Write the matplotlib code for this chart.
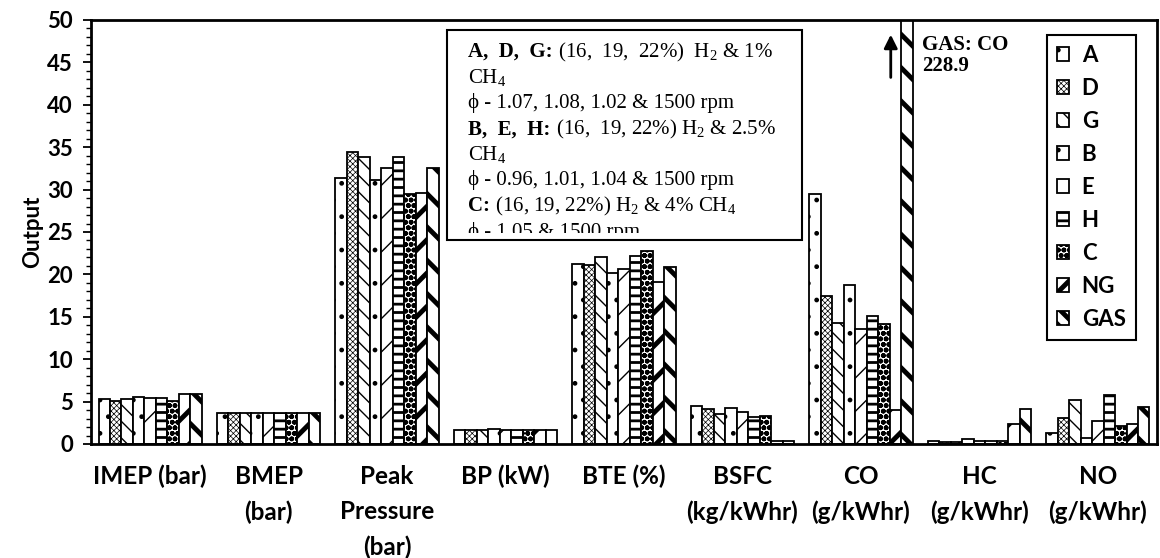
import numpy as np
import matplotlib
matplotlib.use("Agg")
import matplotlib.pyplot as plt
from matplotlib.patches import Rectangle
from matplotlib.ticker import MultipleLocator

plt.rcParams["font.family"] = ["Lato", "DejaVu Sans"]
plt.rcParams["mathtext.fontset"] = "custom"
plt.rcParams["mathtext.rm"] = "Liberation Serif"
plt.rcParams["mathtext.bf"] = "Liberation Serif:bold"
plt.rcParams["mathtext.it"] = "Liberation Serif:italic"

# Performance / emission parameters on the x axis
params = ["IMEP (bar)", "BMEP\n(bar)", "Peak\nPressure\n(bar)", "BP (kW)", "BTE (%)",
          "BSFC\n(kg/kWhr)", "CO\n(g/kWhr)", "HC\n(g/kWhr)", "NO\n(g/kWhr)"]
labels = ["A", "D", "G", "B", "E", "H", "C", "NG", "GAS"]

# values for each fuel case, same order as params
A = [5.3, 3.7, 31.4, 1.7, 21.2, 4.5, 29.5, 0.3, 1.3]
D = [5.1, 3.7, 34.4, 1.7, 21.1, 4.1, 17.4, 0.2, 3.1]
G = [5.3, 3.7, 33.9, 1.7, 22.0, 3.5, 14.3, 0.2, 5.2]
B = [5.5, 3.7, 31.1, 1.8, 20.2, 4.2, 18.8, 0.55, 0.75]
E = [5.4, 3.7, 32.5, 1.7, 20.6, 3.8, 13.6, 0.3, 2.75]
H = [5.4, 3.7, 33.8, 1.7, 22.2, 3.2, 15.1, 0.3, 5.8]
C = [5.1, 3.7, 29.5, 1.7, 22.8, 3.3, 14.2, 0.4, 2.1]
NG = [5.9, 3.7, 29.6, 1.7, 19.1, 0.4, 4.0, 2.3, 2.4]
GAS = [5.9, 3.7, 32.6, 1.7, 20.9, 0.4, 228.9, 4.1, 4.4]
series = [A, D, G, B, E, H, C, NG, GAS]

gas_co = GAS[params.index("CO\n(g/kWhr)")]

# fill pattern and its line width for each case
hatches = [".", "xxxxxx", "\\\\", ".", "/", "--", "ooo", "/", "\\"]
hatch_lw = [1.0, 0.5, 1.0, 1.0, 1.0, 2.0, 1.8, 3.5, 3.5]
# the thick stripes need to be denser to show in the small legend keys
legend_hatches = [".", "xxxxxx", "\\\\", ".", "/", "--", "ooo", "//", "\\\\"]

# (bold lead, rest of line) for the description box
note_lines = [
    ("A,  D,  G:", r" (16,  19,  22%)  H$_2$ & 1%"),
    ("", r"CH$_4$"),
    ("", "ϕ - 1.07, 1.08, 1.02 & 1500 rpm"),
    ("B,  E,  H:", r" (16,  19, 22%) H$_2$ & 2.5%"),
    ("", r"CH$_4$"),
    ("", "ϕ - 0.96, 1.01, 1.04 & 1500 rpm"),
    ("C:", r" (16, 19, 22%) H$_2$ & 4% CH$_4$"),
    ("", "ϕ - 1.05 & 1500 rpm"),
]
serif = ["Liberation Serif", "DejaVu Serif"]

fig = plt.figure(figsize=(11.6, 5.58), dpi=100)
ax = fig.add_axes([91 / 1160, 1 - 444 / 558, (1157 - 91) / 1160, (444 - 20) / 558])

x = np.arange(len(params))
w = 0.097
for i, (vals, lab) in enumerate(zip(series, labels)):
    plt.rcParams["hatch.linewidth"] = hatch_lw[i]
    bars = ax.bar(x + (i - 4) * w, vals, w, label=lab, color="white",
                  edgecolor="black", linewidth=1.3, hatch=hatches[i], zorder=2)
    for b in bars:
        if hasattr(b, "set_hatch_linewidth"):
            b.set_hatch_linewidth(hatch_lw[i])

ax.set_xlim(-0.5, len(params) - 0.5)
ax.set_ylim(0, 50)
ax.yaxis.set_major_locator(MultipleLocator(5))
ax.yaxis.set_minor_locator(MultipleLocator(1))
ax.set_xticks(x)
ax.set_xticklabels(params, fontsize=17.5, fontweight="bold", linespacing=1.63, va="top")
ax.tick_params(axis="x", length=0, pad=15)
ax.tick_params(axis="y", which="major", length=6, width=1.3, labelsize=16, pad=7)
ax.tick_params(axis="y", which="minor", length=3.5, width=1.0)
for t in ax.get_yticklabels():
    t.set_fontweight("bold")
ax.set_ylabel("Output", fontsize=16, fontweight="bold", labelpad=3)
for s in ax.spines.values():
    s.set_linewidth(2)

leg = ax.legend(loc="upper left", bbox_to_anchor=(0.897, 0.965),
                prop=dict(weight="bold", size=16), fancybox=False,
                edgecolor="black", framealpha=1, handlelength=0.55,
                handleheight=0.55, handletextpad=0.55, labelspacing=0.54,
                borderpad=0.45, borderaxespad=0)
leg.get_frame().set_linewidth(1.5)
for p, lw, h in zip(leg.get_patches(), hatch_lw, legend_hatches):
    p.set_hatch(h)
    if hasattr(p, "set_hatch_linewidth"):
        p.set_hatch_linewidth(lw)

# description box of the fuel cases, last line cut off by its lower margin
box = Rectangle((0.334, 0.481), 0.333, 0.495, transform=ax.transAxes,
                facecolor="white", edgecolor="black", lw=1.5, zorder=5)
ax.add_patch(box)
clip = Rectangle((0.334, 0.497), 0.333, 0.47, transform=ax.transAxes,
                 fill=False, visible=False)
ax.add_patch(clip)

renderer = fig.canvas.get_renderer()
for k, (lead, rest) in enumerate(note_lines):
    y = 0.9127 - k * 0.0606
    x0 = 0.354
    if lead:
        t = ax.text(x0, y, lead, transform=ax.transAxes, fontsize=15,
                    fontweight="bold", family=serif, va="baseline", ha="left", zorder=6)
        t.set_clip_path(clip)
        t.set_clip_on(True)
        bb = t.get_window_extent(renderer)
        x0 = ax.transAxes.inverted().transform((bb.x1, bb.y0))[0]
    t = ax.text(x0, y, rest, transform=ax.transAxes, fontsize=15, family=serif,
                va="baseline", ha="left", zorder=6)
    t.set_clip_path(clip)
    t.set_clip_on(True)

# GAS CO value runs off the scale
ax.annotate("", xy=(6 + 2.6 * w, 48.6), xytext=(6 + 2.6 * w, 42.9),
            arrowprops=dict(arrowstyle="-|>", lw=2, color="black", mutation_scale=20),
            zorder=6)
ax.text(0.78, 0.965, f"GAS: CO\n{gas_co}", transform=ax.transAxes, fontsize=15,
        fontweight="bold", family=serif,
        va="top", ha="left", linespacing=1.05, zorder=6)

fig.savefig("out.png", dpi=100)
